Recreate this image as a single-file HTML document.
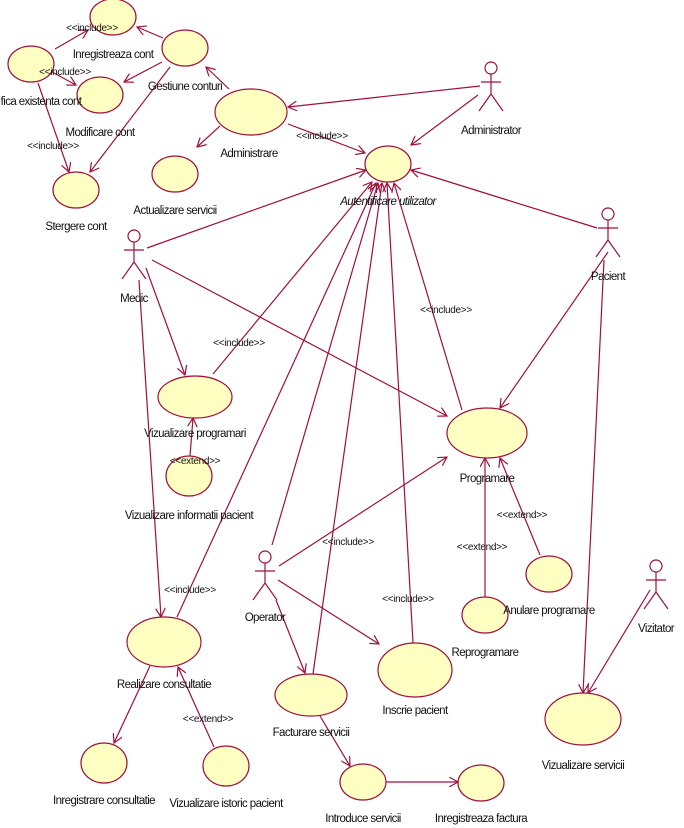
<!DOCTYPE html>
<html><head><meta charset="utf-8"><style>
html,body{margin:0;padding:0;background:#fff;}
svg{display:block;}
text{font-family:"Liberation Sans",sans-serif;font-size:11.5px;fill:#111;letter-spacing:-0.6px;}
.s{font-size:10px;letter-spacing:-0.3px;}
</style></head><body>
<svg width="684" height="828" viewBox="0 0 684 828" xmlns="http://www.w3.org/2000/svg">
<defs>
<marker id="a" markerWidth="10" markerHeight="10" refX="9" refY="5" orient="auto" markerUnits="userSpaceOnUse">
<path d="M0,0 L9,5 L0,10" fill="none" stroke="#a0103c" stroke-width="1.2"/>
</marker>
</defs>
<g stroke="#a0103c" stroke-width="1.2" fill="none" marker-end="url(#a)">
<line x1="480" y1="86" x2="288" y2="107"/>
<line x1="478" y1="95" x2="411" y2="145"/>
<line x1="229" y1="89" x2="206" y2="67"/>
<line x1="220" y1="126" x2="197" y2="147"/>
<line x1="288" y1="124" x2="365" y2="153"/>
<line x1="163" y1="38" x2="137" y2="27"/>
<line x1="162" y1="62" x2="124" y2="82"/>
<line x1="170" y1="67" x2="90" y2="172"/>
<line x1="55" y1="49" x2="88" y2="30"/>
<line x1="52" y1="72" x2="76" y2="85"/>
<line x1="38" y1="83" x2="69" y2="172"/>
<line x1="597" y1="228" x2="411" y2="170"/>
<line x1="147" y1="248" x2="366" y2="170"/>
<line x1="152" y1="260" x2="447" y2="416"/>
<line x1="146" y1="268" x2="185" y2="375"/>
<line x1="139" y1="280" x2="161" y2="617"/>
<line x1="213" y1="374" x2="372" y2="182"/>
<line x1="190" y1="456" x2="193" y2="418"/>
<line x1="462" y1="410" x2="394" y2="183"/>
<line x1="608" y1="252" x2="500" y2="408"/>
<line x1="604" y1="260" x2="583" y2="693"/>
<line x1="279" y1="566" x2="447" y2="457"/>
<line x1="278" y1="580" x2="379" y2="644"/>
<line x1="276" y1="600" x2="305" y2="673"/>
<line x1="272" y1="545" x2="378" y2="183"/>
<line x1="177" y1="617" x2="376" y2="183"/>
<line x1="313" y1="674" x2="382" y2="183"/>
<line x1="413" y1="643" x2="387" y2="183"/>
<line x1="485" y1="597" x2="485" y2="458"/>
<line x1="540" y1="555" x2="500" y2="458"/>
<line x1="150" y1="666" x2="114" y2="743"/>
<line x1="214" y1="747" x2="178" y2="667"/>
<line x1="320" y1="716" x2="350" y2="766"/>
<line x1="386" y1="782" x2="458" y2="782"/>
<line x1="650" y1="590" x2="588" y2="693"/>
</g>
<g fill="#ffffc2" stroke="#a0103c" stroke-width="1.2">
<ellipse cx="113" cy="17" rx="23" ry="18"/>
<ellipse cx="31" cy="64" rx="23" ry="18"/>
<ellipse cx="185" cy="48" rx="23" ry="18"/>
<ellipse cx="100" cy="95" rx="23" ry="18"/>
<ellipse cx="251" cy="112" rx="36" ry="23"/>
<ellipse cx="175" cy="174" rx="23" ry="18"/>
<ellipse cx="76" cy="190" rx="23" ry="18"/>
<ellipse cx="388" cy="164" rx="23" ry="18"/>
<ellipse cx="195" cy="397" rx="37" ry="21"/>
<ellipse cx="189" cy="476" rx="23" ry="20"/>
<ellipse cx="487" cy="433" rx="40" ry="25"/>
<ellipse cx="549" cy="574" rx="23" ry="18"/>
<ellipse cx="485" cy="615" rx="23" ry="18"/>
<ellipse cx="164" cy="642" rx="37" ry="25"/>
<ellipse cx="415" cy="670" rx="37" ry="27"/>
<ellipse cx="311" cy="695" rx="36" ry="21"/>
<ellipse cx="583" cy="719" rx="38" ry="26"/>
<ellipse cx="104" cy="763" rx="23" ry="20"/>
<ellipse cx="226" cy="766" rx="23" ry="20"/>
<ellipse cx="363" cy="782" rx="23" ry="18"/>
<ellipse cx="481" cy="783" rx="23" ry="18"/>
</g>
<g stroke="#a0103c" stroke-width="1.2" fill="none">
<g transform="translate(491,68)"><circle cx="0" cy="0" r="6"/><path d="M0,6 V26 M-10,14 H10 M0,26 L-12,43 M0,26 L12,43"/></g>
<g transform="translate(608,214)"><circle cx="0" cy="0" r="6"/><path d="M0,6 V26 M-10,14 H10 M0,26 L-12,43 M0,26 L12,43"/></g>
<g transform="translate(134,236)"><circle cx="0" cy="0" r="6"/><path d="M0,6 V26 M-10,14 H10 M0,26 L-12,43 M0,26 L12,43"/></g>
<g transform="translate(265,557)"><circle cx="0" cy="0" r="6"/><path d="M0,6 V26 M-10,14 H10 M0,26 L-12,43 M0,26 L12,43"/></g>
<g transform="translate(656,566)"><circle cx="0" cy="0" r="6"/><path d="M0,6 V26 M-10,14 H10 M0,26 L-12,43 M0,26 L12,43"/></g>
</g>
<g>
<text x="491" y="134" text-anchor="middle">Administrator</text>
<text x="608" y="280" text-anchor="middle">Pacient</text>
<text x="134" y="302" text-anchor="middle">Medic</text>
<text x="265" y="621" text-anchor="middle">Operator</text>
<text x="656" y="632" text-anchor="middle">Vizitator</text>
<text x="113" y="58" text-anchor="middle">Inregistreaza cont</text>
<text x="41" y="105" text-anchor="middle">fica existenta cont</text>
<text x="185" y="90" text-anchor="middle">Gestiune conturi</text>
<text x="100" y="136" text-anchor="middle">Modificare cont</text>
<text x="249" y="157" text-anchor="middle">Administrare</text>
<text x="175" y="214" text-anchor="middle">Actualizare servicii</text>
<text x="76" y="230" text-anchor="middle">Stergere cont</text>
<text x="388" y="205" text-anchor="middle" font-style="italic">Autentificare utilizator</text>
<text x="195" y="437" text-anchor="middle">Vizualizare programari</text>
<text x="189" y="519" text-anchor="middle">Vizualizare informatii pacient</text>
<text x="487" y="482" text-anchor="middle">Programare</text>
<text x="549" y="614" text-anchor="middle">Anulare programare</text>
<text x="485" y="656" text-anchor="middle">Reprogramare</text>
<text x="164" y="688" text-anchor="middle">Realizare consultatie</text>
<text x="415" y="714" text-anchor="middle">Inscrie pacient</text>
<text x="311" y="736" text-anchor="middle">Facturare servicii</text>
<text x="583" y="769" text-anchor="middle">Vizualizare servicii</text>
<text x="104" y="804" text-anchor="middle">Inregistrare consultatie</text>
<text x="226" y="807" text-anchor="middle">Vizualizare istoric pacient</text>
<text x="363" y="822" text-anchor="middle">Introduce servicii</text>
<text x="481" y="822" text-anchor="middle">Inregistreaza factura</text>
<text class="s" x="92" y="31" text-anchor="middle">&lt;&lt;include&gt;&gt;</text>
<text class="s" x="65" y="75" text-anchor="middle">&lt;&lt;include&gt;&gt;</text>
<text class="s" x="53" y="149" text-anchor="middle">&lt;&lt;include&gt;&gt;</text>
<text class="s" x="322" y="139" text-anchor="middle">&lt;&lt;include&gt;&gt;</text>
<text class="s" x="239" y="346" text-anchor="middle">&lt;&lt;include&gt;&gt;</text>
<text class="s" x="195" y="464" text-anchor="middle">&lt;&lt;extend&gt;&gt;</text>
<text class="s" x="446" y="313" text-anchor="middle">&lt;&lt;include&gt;&gt;</text>
<text class="s" x="348" y="545" text-anchor="middle">&lt;&lt;include&gt;&gt;</text>
<text class="s" x="190" y="593" text-anchor="middle">&lt;&lt;include&gt;&gt;</text>
<text class="s" x="408" y="602" text-anchor="middle">&lt;&lt;include&gt;&gt;</text>
<text class="s" x="482" y="550" text-anchor="middle">&lt;&lt;extend&gt;&gt;</text>
<text class="s" x="522" y="518" text-anchor="middle">&lt;&lt;extend&gt;&gt;</text>
<text class="s" x="208" y="722" text-anchor="middle">&lt;&lt;extend&gt;&gt;</text>
</g>
</svg>
</body></html>
